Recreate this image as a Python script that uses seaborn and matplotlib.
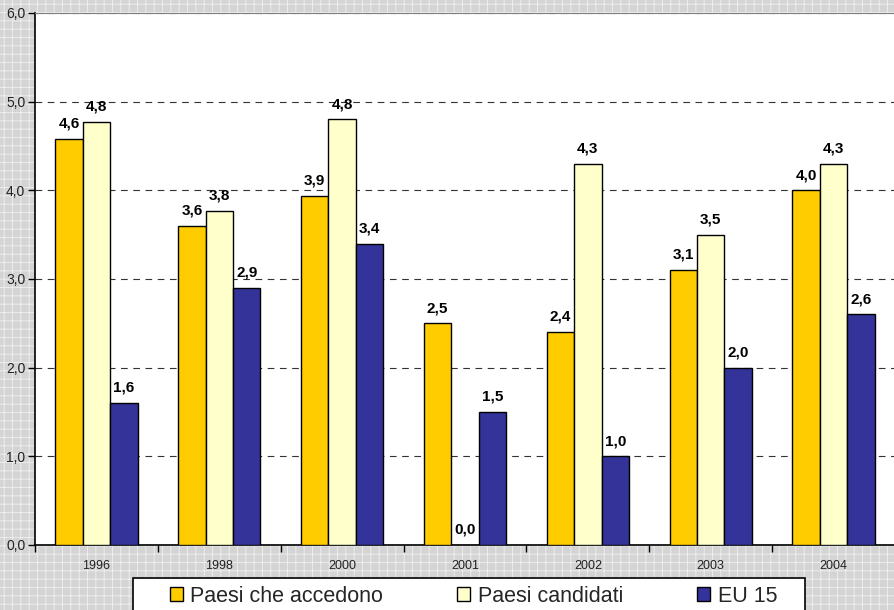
import numpy as np
import pandas as pd
import matplotlib
matplotlib.use("Agg")
import matplotlib.pyplot as plt
from matplotlib.patches import Rectangle
import seaborn as sns

# dati
anni = ["1996", "1998", "2000", "2001", "2002", "2003", "2004"]
accedono = [4.58, 3.6, 3.94, 2.5, 2.4, 3.1, 4.0]
candidati = [4.77, 3.77, 4.8, 0.0, 4.3, 3.5, 4.3]
eu15 = [1.6, 2.9, 3.4, 1.5, 1.0, 2.0, 2.6]
serie = ["Paesi che accedono", "Paesi candidati", "EU 15"]
colori = ["#FFCC00", "#FFFFCC", "#333399"]

df = pd.DataFrame({
    "anno": anni * 3,
    "valore": accedono + candidati + eu15,
    "serie": [serie[0]] * 7 + [serie[1]] * 7 + [serie[2]] * 7,
})

sns.set_style("white")
plt.rcParams['font.family'] = ['Liberation Sans', 'DejaVu Sans']
plt.rcParams['hatch.linewidth'] = 0.6

fig = plt.figure(figsize=(8.95, 6.1), dpi=100)
fig.patch.set_facecolor("#d4d4d4")
fig.patch.set_edgecolor("#f0f0f0")
fig.patch.set_hatch("++")
ax = fig.add_axes([35 / 895, 1 - 545 / 610, 1 - 35 / 895, (545 - 13) / 610])
ax.set_facecolor("white")

sns.barplot(data=df, x="anno", y="valore", hue="serie", palette=colori,
            width=0.67, gap=0, edgecolor="black", linewidth=1,
            saturation=1, ax=ax, legend=True, zorder=3)

for cont, vals in zip(ax.containers, [accedono, candidati, eu15]):
    ax.bar_label(cont, labels=[f"{v:.1f}".replace(".", ",") for v in vals],
                 padding=6, fontsize=11, fontweight="bold", color="black", zorder=4)

ax.set_ylim(0, 6)
ax.set_xlim(-0.5, 6.5)
ax.set_yticks(np.arange(0, 7, 1))
ax.set_yticklabels([f"{v:.1f}".replace(".", ",") for v in np.arange(0, 7, 1)], fontsize=10)
ax.tick_params(axis="y", direction="out", length=5, width=1, color="black", pad=2, left=True,
               labelcolor="#222222")
ax.set_xticks(range(7))
ax.set_xticklabels(anni, fontsize=9)
ax.tick_params(axis="x", which="major", length=0, pad=11, labelcolor="#222222")
ax.set_xticks(np.arange(-0.5, 7, 1), minor=True)
ax.tick_params(axis="x", which="minor", direction="out", length=5, width=1, color="black", bottom=True)
ax.yaxis.grid(True, linestyle=(0, (6, 5)), color="#333333", linewidth=0.8, zorder=0)
ax.set_axisbelow(True)
ax.set_xlabel("")
ax.set_ylabel("")
for s in ["left", "bottom"]:
    ax.spines[s].set_color("black")
    ax.spines[s].set_linewidth(1.2)
ax.spines["top"].set_color("#808080")
ax.spines["right"].set_visible(False)

# legenda
handles, labels = ax.get_legend_handles_labels()
ax.get_legend().remove()
box = Rectangle((133 / 895, -0.02), 672 / 895, 32 / 610 + 0.02, transform=fig.transFigure,
                facecolor="white", edgecolor="black", linewidth=1.2, zorder=5)
fig.patches.append(box)
leg = fig.legend(handles, labels, loc="center", bbox_to_anchor=(0.529, 0.0225),
                 ncol=3, fontsize=15.5, frameon=False,
                 handlelength=0.6, handleheight=0.6, handletextpad=0.35,
                 columnspacing=3.45, borderpad=0, borderaxespad=0)
leg.set_zorder(6)

fig.savefig("out.png", dpi=100, facecolor=fig.get_facecolor())
